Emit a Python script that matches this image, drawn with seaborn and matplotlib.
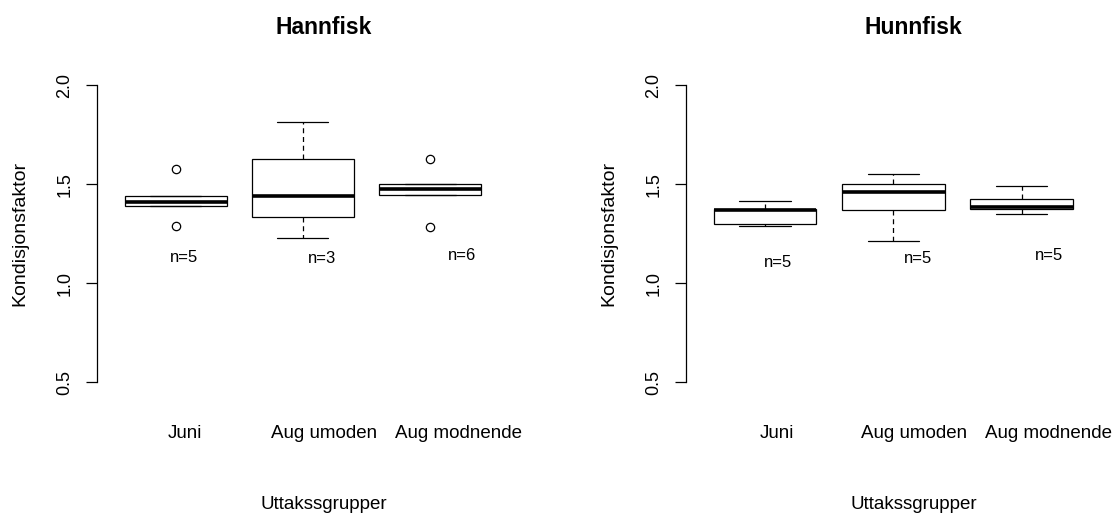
import numpy as np
import pandas as pd
import matplotlib
matplotlib.use("Agg")
import matplotlib.pyplot as plt
import seaborn as sns

# Condition factor per sampling group
groups = ["Juni", "Aug umoden", "Aug modnende"]

hann_juni = [1.289, 1.390, 1.409, 1.439, 1.577]
hann_aug_umoden = [1.227, 1.335, 1.439, 1.628, 1.816]
hann_aug_modnende = [1.283, 1.446, 1.453, 1.503, 1.503, 1.628]

hunn_juni = [1.291, 1.301, 1.368, 1.376, 1.414]
hunn_aug_umoden = [1.214, 1.370, 1.460, 1.501, 1.552]
hunn_aug_modnende = [1.351, 1.377, 1.387, 1.427, 1.490]

hann_n = ["n=5", "n=3", "n=6"]
hunn_n = ["n=5", "n=5", "n=5"]

yticks = [0.5, 1.0, 1.5, 2.0]


def frame(*series):
    rows = []
    for g, vals in zip(groups, series):
        rows += [(g, v) for v in vals]
    return pd.DataFrame(rows, columns=["gruppe", "kf"])


hann = frame(hann_juni, hann_aug_umoden, hann_aug_modnende)
hunn = frame(hunn_juni, hunn_aug_umoden, hunn_aug_modnende)

sns.set_style("white")
plt.rcParams["font.family"] = ["Liberation Sans", "DejaVu Sans"]
plt.rcParams["text.color"] = "black"
plt.rcParams["axes.labelcolor"] = "black"
plt.rcParams["xtick.color"] = "black"
plt.rcParams["ytick.color"] = "black"

fig = plt.figure(figsize=(11.17, 5.13), dpi=100)
ax_l = fig.add_axes([0.0864, 0.2316, 0.3697, 0.6253])
ax_r = fig.add_axes([0.6137, 0.2316, 0.3723, 0.6253])

panels = [
    (ax_l, hann, "Hannfisk", hann_n,
     [0.075, 1.167, 2.222],
     [(0.067, 1.128), (1.153, 1.123), (2.251, 1.138)], 0.551),
    (ax_r, hunn, "Hunnfisk", hunn_n,
     [0.093, 1.163, 2.205],
     [(0.100, 1.105), (1.189, 1.123), (2.216, 1.138)], 0.548),
]

for ax, df, title, nlab, label_pos, npos, xc in panels:
    sns.boxplot(
        data=df, x="gruppe", y="kf", order=groups, ax=ax,
        width=0.8, color="white", saturation=1, linecolor="black",
        linewidth=0.9, whis=1.5, fliersize=6,
        medianprops=dict(color="black", linewidth=2.6),
        whiskerprops=dict(color="black", linestyle=(0, (4, 3))),
        capprops=dict(color="black"),
        flierprops=dict(marker="o", markerfacecolor="white",
                        markeredgecolor="black", markeredgewidth=0.9),
    )
    ax.set_xlim(-0.62, 2.62)
    ax.set_ylim(0.44, 2.06)

    for side in ["top", "right", "bottom"]:
        ax.spines[side].set_visible(False)
    ax.spines["left"].set_bounds(0.5, 2.0)
    ax.spines["left"].set_color("black")
    ax.spines["left"].set_linewidth(0.9)

    ax.set_yticks(yticks)
    ax.set_yticklabels([f"{t:.1f}" for t in yticks], rotation=90, va="center")
    ax.tick_params(axis="y", direction="out", length=7.7, width=0.9,
                   color="black", labelcolor="black", labelsize=13,
                   pad=9, left=True)

    ax.set_xticks(label_pos)
    ax.set_xticklabels(groups)
    ax.tick_params(axis="x", length=0, labelsize=13.5, labelcolor="black",
                   pad=22)

    ax.set_xlabel("")
    ax.set_ylabel("Kondisjonsfaktor", fontsize=14, color="black")
    ax.yaxis.set_label_coords(-0.165, 0.5)

    ax.text(xc, 1.142, title, transform=ax.transAxes, ha="center",
            va="center", fontsize=16.5, fontweight="bold")
    ax.text(xc, -0.343, "Uttakssgrupper", transform=ax.transAxes,
            ha="center", va="center", fontsize=13.5)

    for lab, (x, y) in zip(nlab, npos):
        ax.text(x, y, lab, ha="center", va="center", fontsize=12)

fig.savefig("out.png", dpi=100, facecolor="white")
